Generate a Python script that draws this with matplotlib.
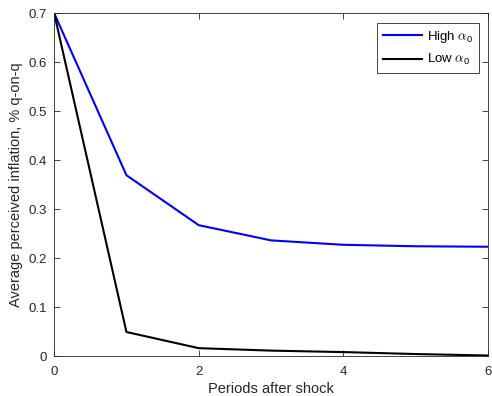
import matplotlib
matplotlib.use("Agg")
import matplotlib.pyplot as plt

plt.rcParams['font.family'] = ['Liberation Sans', 'DejaVu Sans']
plt.rcParams['mathtext.fontset'] = 'cm'

periods = [0, 1, 2, 3, 4, 5, 6]
high_alpha = [0.70, 0.369, 0.267, 0.236, 0.227, 0.224, 0.223]
low_alpha = [0.70, 0.049, 0.016, 0.011, 0.008, 0.004, 0.001]

grey = '#262626'

fig = plt.figure(figsize=(4.92, 3.96), dpi=100)
ax = fig.add_axes([0.110, 0.101, 0.882, 0.866])

ax.plot(periods, high_alpha, color='#0000ff', lw=1.5, label=r'High $\alpha_\mathregular{0}$')
ax.plot(periods, low_alpha, color='black', lw=1.5, label=r'Low $\alpha_\mathregular{0}$')

ax.set_xlim(0, 6)
ax.set_ylim(0, 0.7)
ax.set_xticks([0, 2, 4, 6])
ax.set_yticks([0, 0.1, 0.2, 0.3, 0.4, 0.5, 0.6, 0.7])
ax.set_yticklabels(['0', '0.1', '0.2', '0.3', '0.4', '0.5', '0.6', '0.7'])
ax.tick_params(direction='in', length=4, width=0.6, labelsize=9.5, pad=5,
               top=True, right=True, color=grey, labelcolor=grey)
ax.tick_params(axis='x', pad=7)
for s in ax.spines.values():
    s.set_linewidth(0.6)
    s.set_color(grey)

ax.set_xlabel('Periods after shock', fontsize=10.5, color=grey, labelpad=3)
ax.set_ylabel('Average perceived inflation, % q-on-q', fontsize=10.5, color=grey)

leg = ax.legend(loc='upper right', bbox_to_anchor=(0.979, 0.971), borderaxespad=0,
                fontsize=9.5, fancybox=False, edgecolor=grey, framealpha=1,
                handlelength=2.9, handletextpad=0.4, borderpad=0.45, labelspacing=0.55)
leg.get_frame().set_linewidth(0.6)

fig.savefig('out.png', dpi=100)
